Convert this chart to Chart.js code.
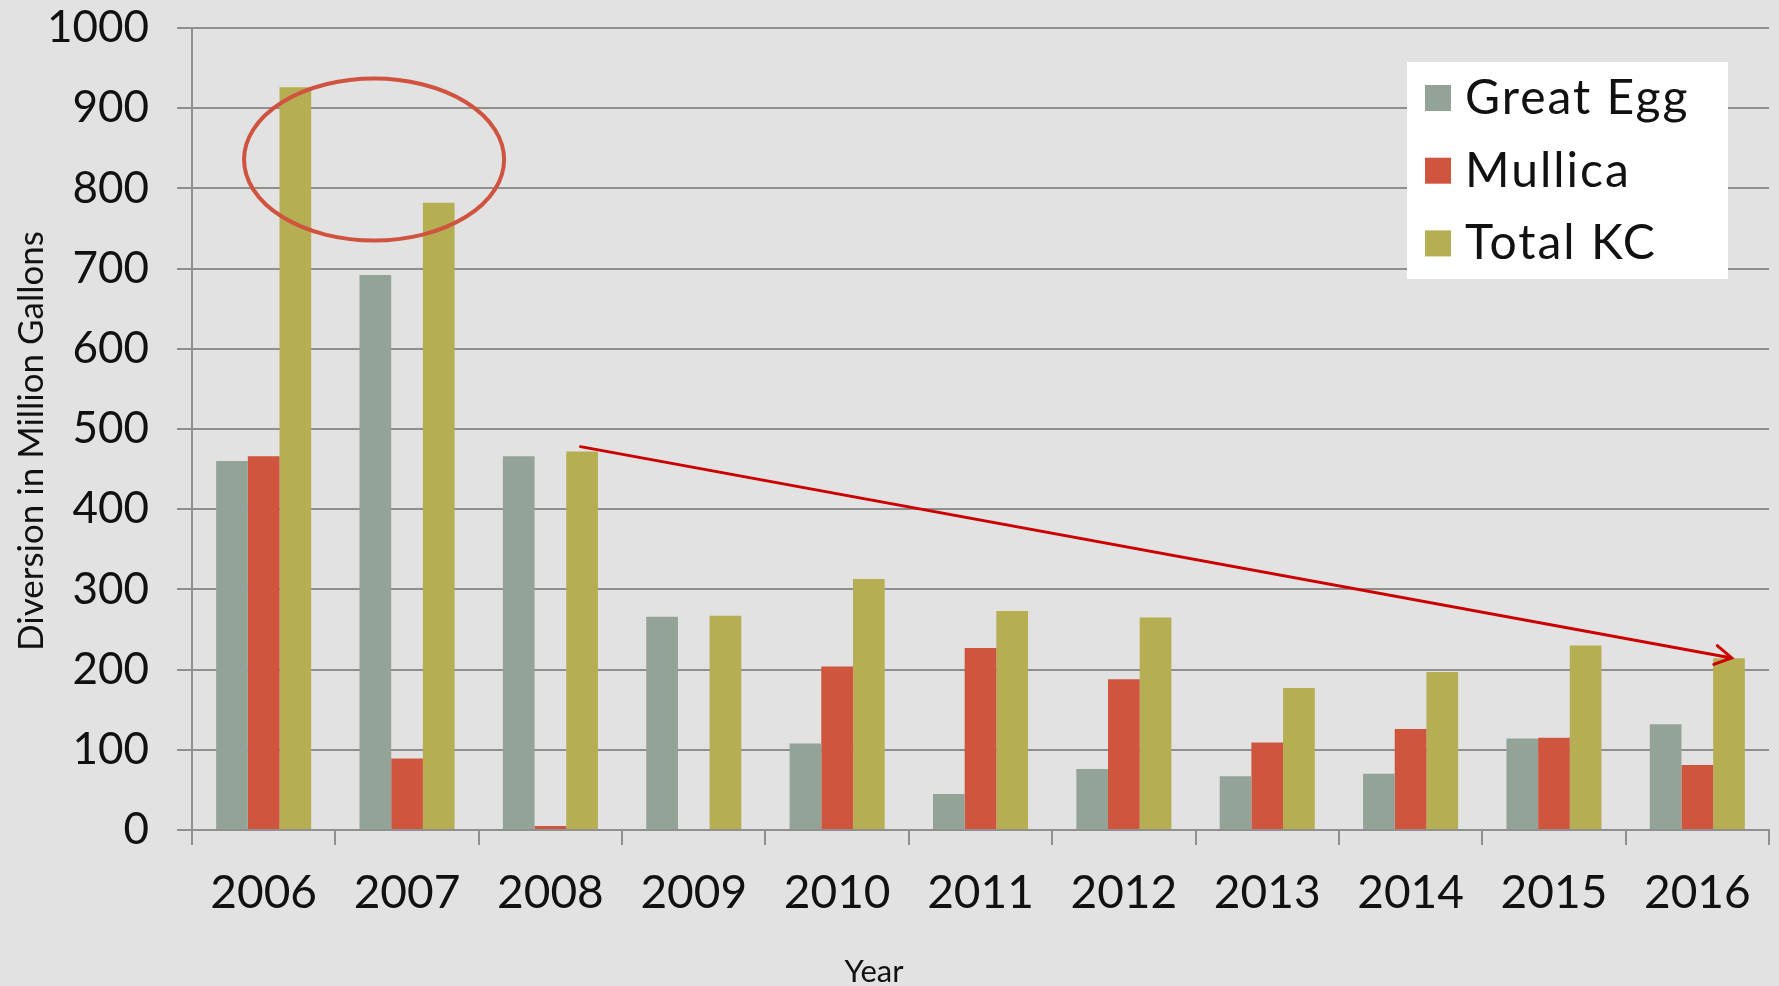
<!DOCTYPE html>
<html>
<head>
<meta charset="utf-8">
<script src="https://cdn.jsdelivr.net/npm/chart.js@4.4.1/dist/chart.umd.min.js"></script>
<style>
  html, body { margin: 0; padding: 0; background: #e2e2e2; }
  #c { display: block; }
</style>
</head>
<body>
<canvas id="c" width="1779" height="986"></canvas>
<script>
// ---- data ----
const categories = ['2006', '2007', '2008', '2009', '2010', '2011', '2012', '2013', '2014', '2015', '2016'];
const greatEgg = [460, 692, 466, 266, 108, 45, 76, 67, 70, 114, 132];
const mullica  = [466, 89, 5, 0, 204, 227, 188, 109, 126, 115, 81];
const totalKC  = [926, 782, 472, 267, 313, 273, 265, 177, 197, 230, 214];
const seriesNames = ['Great Egg', 'Mullica', 'Total KC'];
const yTickValues = [0, 100, 200, 300, 400, 500, 600, 700, 800, 900, 1000];
const yTitle = 'Diversion in Million Gallons';
const xTitle = 'Year';
// annotation anchors in data units (category index, value)
const ellipseCenter = [0.77, 836];
const ellipseRadii = [0.907, 101];
const arrowFrom = [2.21, 478];
const arrowTo = [10.24, 214.5];

const COLORS = ['#93a397', '#d0553f', '#b6ae52'];
const GRID = '#8f8f8f';
const BG = '#e2e2e2';

const decor = {
  id: 'decor',
  beforeDraw(chart) {
    const ctx = chart.ctx;
    ctx.save();
    ctx.fillStyle = BG;
    ctx.fillRect(0, 0, chart.width, chart.height);
    ctx.restore();
  },
  afterDraw(chart) {
    const ctx = chart.ctx;
    const xs = chart.scales.x, ys = chart.scales.y;
    const ca = chart.chartArea;

    // ellipse
    const cx = xs.getPixelForValue(ellipseCenter[0]);
    const cy = ys.getPixelForValue(ellipseCenter[1]);
    const rx = xs.getPixelForValue(ellipseCenter[0] + ellipseRadii[0]) - cx;
    const ry = cy - ys.getPixelForValue(ellipseCenter[1] + ellipseRadii[1]);
    ctx.save();
    ctx.strokeStyle = '#d0533f';
    ctx.lineWidth = 4;
    ctx.beginPath();
    ctx.ellipse(cx, cy, rx, ry, 0, 0, Math.PI * 2);
    ctx.stroke();
    ctx.restore();

    // arrow
    const x1 = xs.getPixelForValue(arrowFrom[0]), y1 = ys.getPixelForValue(arrowFrom[1]);
    const x2 = xs.getPixelForValue(arrowTo[0]), y2 = ys.getPixelForValue(arrowTo[1]);
    const ang = Math.atan2(y2 - y1, x2 - x1);
    const hl = 19, ha = Math.PI / 6;
    ctx.save();
    ctx.strokeStyle = '#cc0000';
    ctx.lineWidth = 3;
    ctx.lineCap = 'round';
    ctx.beginPath();
    ctx.moveTo(x1, y1);
    ctx.lineTo(x2, y2);
    ctx.moveTo(x2 - hl * Math.cos(ang - ha), y2 - hl * Math.sin(ang - ha));
    ctx.lineTo(x2, y2);
    ctx.lineTo(x2 - hl * Math.cos(ang + ha), y2 - hl * Math.sin(ang + ha));
    ctx.stroke();
    ctx.restore();

    // legend
    const lx = ca.right - 362, ly = ca.top + 34, lw = 321, lh = 217;
    ctx.save();
    ctx.fillStyle = '#ffffff';
    ctx.fillRect(lx, ly, lw, lh);
    ctx.font = '48px Lato';
    ctx.letterSpacing = '2px';
    ctx.textAlign = 'left';
    ctx.textBaseline = 'alphabetic';
    chart.data.datasets.forEach((ds, i) => {
      const cyL = ly + 36 + i * 72.7;
      ctx.fillStyle = ds.backgroundColor;
      ctx.fillRect(lx + 18, cyL - 13, 26, 26);
      ctx.fillStyle = '#111111';
      ctx.fillText(ds.label, lx + 58, cyL + 16);
    });
    ctx.restore();

    // y title
    ctx.save();
    ctx.translate(43, (ca.top + ca.bottom) / 2 + 12);
    ctx.rotate(-Math.PI / 2);
    ctx.font = '35px Lato';
    ctx.fillStyle = '#111111';
    ctx.textAlign = 'center';
    ctx.textBaseline = 'alphabetic';
    ctx.fillText(yTitle, 0, 0);
    ctx.restore();

    // x title
    ctx.save();
    ctx.font = '31px Lato';
    ctx.fillStyle = '#111111';
    ctx.textAlign = 'center';
    ctx.textBaseline = 'alphabetic';
    ctx.fillText(xTitle, ca.left + (ca.right - ca.left) * 0.4325, 982);
    ctx.restore();
  }
};

function build() {
  new Chart(document.getElementById('c'), {
    type: 'bar',
    data: {
      labels: categories,
      datasets: [
        { label: seriesNames[0], data: greatEgg, backgroundColor: COLORS[0] },
        { label: seriesNames[1], data: mullica, backgroundColor: COLORS[1] },
        { label: seriesNames[2], data: totalKC, backgroundColor: COLORS[2] }
      ]
    },
    options: {
      responsive: false,
      animation: false,
      devicePixelRatio: 1,
      layout: { padding: { top: 28, right: 10, left: 0, bottom: 0 } },
      datasets: { bar: { categoryPercentage: 0.663, barPercentage: 1.0, borderWidth: 0 } },
      plugins: { legend: { display: false }, tooltip: { enabled: false } },
      scales: {
        x: {
          grid: { display: true, drawOnChartArea: false, drawTicks: true, tickLength: 15, color: GRID, lineWidth: 2, offset: true },
          border: { display: true, color: GRID, width: 2 },
          ticks: { font: { family: 'Lato', size: 46 }, color: '#111111', padding: 21, maxRotation: 0, autoSkip: false },
          afterFit(scale) { scale.height = 156; }
        },
        y: {
          min: 0, max: 1000,
          afterBuildTicks(scale) { scale.ticks = yTickValues.map(v => ({ value: v })); },
          grid: { color: GRID, lineWidth: 2, tickLength: 15, drawTicks: true },
          border: { display: true, color: GRID, width: 2 },
          ticks: { font: { family: 'Lato', size: 44 }, color: '#111111', padding: 28, callback: v => String(v) },
          afterFit(scale) { scale.width = 192; scale.paddingTop = 0; scale.paddingBottom = 0; }
        }
      }
    },
    plugins: [decor]
  });
}
if (document.fonts && document.fonts.load) {
  Promise.all([document.fonts.load('44px Lato'), document.fonts.load('48px Lato')]).then(build, build);
} else { build(); }
</script>
</body>
</html>
